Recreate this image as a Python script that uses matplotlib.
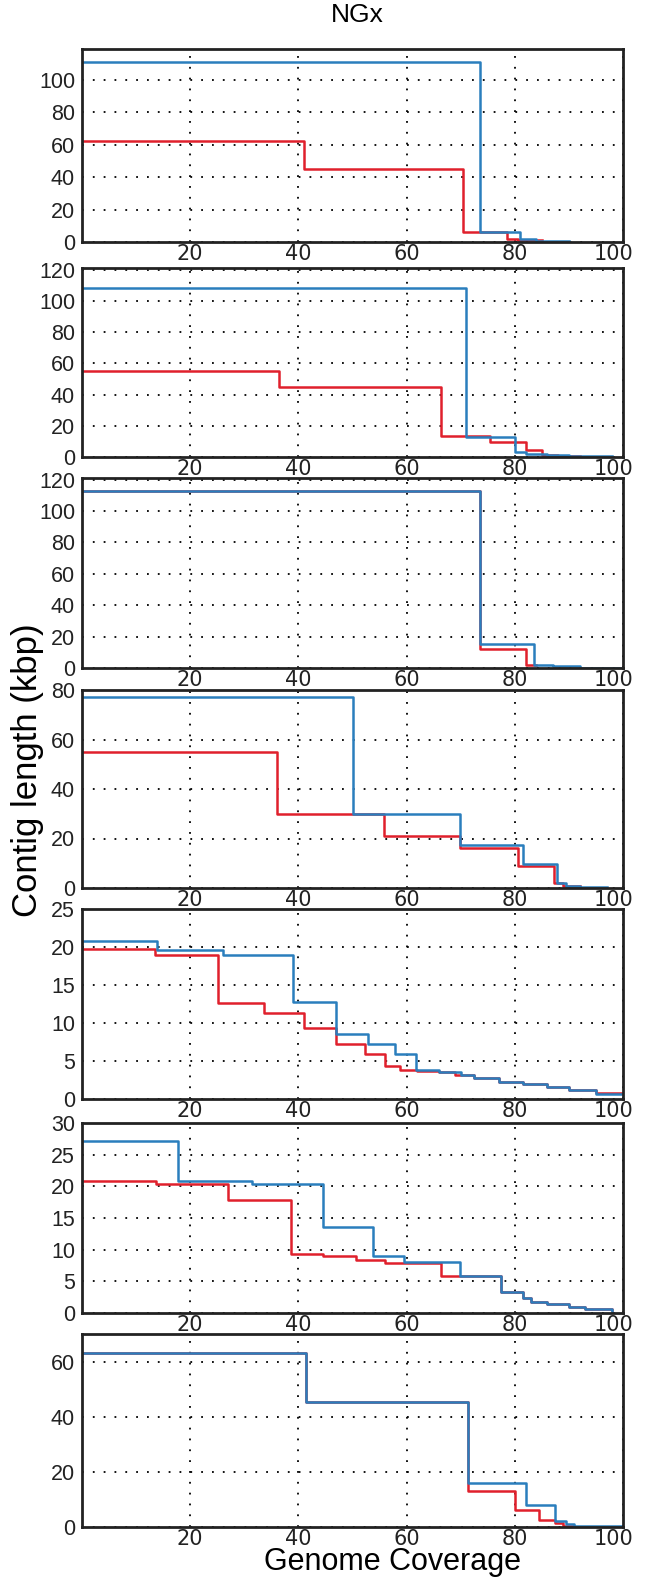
import matplotlib
matplotlib.use("Agg")
import matplotlib.pyplot as plt
import matplotlib.transforms as mtransforms

# NGx curves, one panel per dataset: x = genome coverage (%), y = contig length (kbp)
# red series
red_x1 = [0, 41, 70.5, 78.5, 80.5, 85]
red_y1 = [62, 45, 6, 2, 1, 1]
red_x2 = [0, 36.5, 66.3, 75.5, 82, 85, 88, 92]
red_y2 = [55, 45, 13.5, 9.5, 4.5, 1.5, 0.8, 0.8]
red_x3 = [0, 73.5, 82, 84]
red_y3 = [113, 12, 2, 2]
red_x4 = [0, 36, 55.8, 69.8, 80.5, 87.2, 89, 92]
red_y4 = [55, 30, 21, 16, 9, 2, 1, 1]
red_x5 = [0, 13.5, 25.2, 33.7, 41, 47, 52.3, 56, 58.8, 62, 66, 69, 72.5, 77, 81.5, 86, 90, 95, 100]
red_y5 = [19.7, 19.0, 12.6, 11.3, 9.3, 7.3, 5.9, 4.4, 3.8, 3.7, 3.5, 3.2, 2.7, 2.3, 2.0, 1.6, 1.2, 0.8, 0.8]
red_x6 = [0, 13.6, 27, 38.6, 44.6, 50.6, 56, 66.3, 70, 77.4, 81.5, 83, 86, 90, 93, 98]
red_y6 = [20.9, 20.4, 17.8, 9.3, 9.0, 8.3, 7.9, 5.9, 5.8, 3.3, 2.4, 1.8, 1.5, 1.0, 0.6, 0.4]
red_x7 = [0, 41.4, 71.4, 80, 84.4, 87.5, 89, 91]
red_y7 = [63, 45.5, 13, 6, 2.5, 1.5, 0.5, 0.5]

# blue series
blue_x1 = [0, 73.5, 81, 84, 90]
blue_y1 = [111, 6, 2, 0.8, 0.8]
blue_x2 = [0, 71, 80, 82, 86, 90, 98]
blue_y2 = [108, 13, 3, 2, 1, 0.5, 0.5]
blue_x3 = [0, 73.5, 83.5, 87, 92, 100]
blue_y3 = [113, 15, 2, 1, 0.3, 0.3]
blue_x4 = [0, 50, 69.8, 81.5, 87.8, 89.5, 92, 97]
blue_y4 = [77, 30, 17.5, 9.5, 2, 1, 0.5, 0.5]
blue_x5 = [0, 13.8, 26, 39, 47, 52.8, 57.8, 61.8, 66, 70, 72.5, 77, 81.5, 86, 90, 95, 100]
blue_y5 = [20.8, 19.6, 19.0, 12.7, 8.6, 7.3, 5.9, 3.8, 3.5, 3.2, 2.8, 2.3, 2.0, 1.6, 1.2, 0.7, 0.6]
blue_x6 = [0, 17.8, 31.5, 44.6, 53.7, 59.6, 69.8, 77.4, 81.5, 83, 86, 90, 93, 98, 98]
blue_y6 = [27.2, 20.8, 20.3, 13.6, 9.0, 8.0, 5.8, 3.3, 2.4, 1.8, 1.5, 1.0, 0.6, 0.4, 0]
blue_x7 = [0, 41.4, 71.4, 82, 87.5, 89.5, 91, 100]
blue_y7 = [63, 45.5, 16, 8, 2.3, 1, 0.4, 0.4]

y_max = [119, 121, 121, 80, 25, 30, 70]
y_step = [20, 20, 20, 20, 5, 5, 20]
x_ticks = [20, 40, 60, 80, 100]

reds = [(red_x1, red_y1), (red_x2, red_y2), (red_x3, red_y3), (red_x4, red_y4),
        (red_x5, red_y5), (red_x6, red_y6), (red_x7, red_y7)]
blues = [(blue_x1, blue_y1), (blue_x2, blue_y2), (blue_x3, blue_y3), (blue_x4, blue_y4),
         (blue_x5, blue_y5), (blue_x6, blue_y6), (blue_x7, blue_y7)]

RED = "#e0202c"
BLUE = "#2a7ebd"

W, H = 652, 1579
fig = plt.figure(figsize=(W / 100, H / 100), dpi=100)

# panel extents in pixels (top, bottom)
panels_px = [(49, 242), (268, 457), (478, 668), (690, 888), (909, 1099), (1123, 1313), (1334, 1527)]
left_px, right_px = 82, 623

for i, (top, bot) in enumerate(panels_px):
    ax = fig.add_axes([left_px / W, 1 - bot / H, (right_px - left_px) / W, (bot - top) / H])
    rx, ry = reds[i]
    bx, by = blues[i]
    ax.step(rx, ry, where="post", color=RED, lw=1.8)
    ax.step(bx, by, where="post", color=BLUE, lw=1.8)

    ax.set_xlim(0, 100)
    ax.set_ylim(0, y_max[i])
    yt = list(range(0, int(y_max[i]) + 1, y_step[i]))
    if i == 0:
        yt = [t for t in yt if t <= 100]
    ax.set_yticks(yt)
    ax.set_xticks(x_ticks)
    ax.grid(True, linestyle=(0, (1, 5)), color="k", lw=1.3)
    ax.tick_params(axis="x", length=0, pad=1.5)
    ax.tick_params(axis="y", length=0, pad=5)
    for lab in ax.get_yticklabels():
        lab.set_fontfamily("Liberation Sans")
        lab.set_fontsize(15.5)
        lab.set_color("#222222")
    for lab in ax.get_xticklabels():
        lab.set_fontfamily("DejaVu Sans")
        lab.set_fontsize(15)
        lab.set_color("#222222")
    # the "100" label sits a little left of its tick
    last = ax.get_xticklabels()[-1]
    last.set_transform(last.get_transform() +
                       mtransforms.ScaledTranslation(-0.09, 0, fig.dpi_scale_trans))
    for sp in ax.spines.values():
        sp.set_linewidth(2)
        sp.set_color("#222222")

fig.text(357 / W, 1 - 15 / H, "NGx", ha="center", va="center", fontsize=19,
         family="Liberation Sans")
fig.text(28 / W, 1 - 770 / H, "Contig length (kbp)", ha="center", va="center",
         rotation=90, fontsize=25, family="Liberation Sans")
fig.text(393 / W, 1 - 1562 / H, "Genome Coverage", ha="center", va="center",
         fontsize=22, family="Liberation Sans")

fig.savefig("out.png", dpi=100)
